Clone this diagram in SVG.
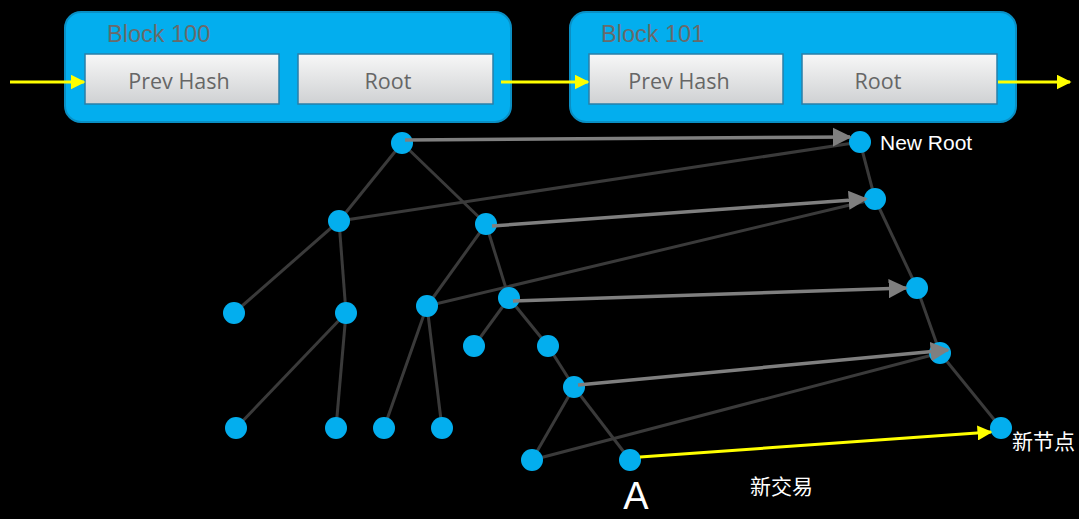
<svg xmlns="http://www.w3.org/2000/svg" width="1079" height="519" viewBox="0 0 1079 519">
<defs>
<linearGradient id="btn" x1="0" y1="0" x2="0" y2="1">
<stop offset="0" stop-color="#f7f7f7"/>
<stop offset="1" stop-color="#cfd1d3"/>
</linearGradient>
<marker id="ay" viewBox="0 0 10 10" refX="9" refY="5" markerWidth="5" markerHeight="5" orient="auto" markerUnits="strokeWidth">
<path d="M0,0 L10,5 L0,10 z" fill="#ffff00"/>
</marker>
<marker id="ag" viewBox="0 0 10 10" refX="9" refY="5" markerWidth="5.5" markerHeight="5.5" orient="auto" markerUnits="strokeWidth">
<path d="M0,0 L10,5 L0,10 z" fill="#7f7f7f"/>
</marker>
<style>
.blk{fill:#03aeee;stroke:#0a8fc4;stroke-width:2}
.btn{fill:url(#btn);stroke:#2a7fa8;stroke-width:1.5}
.bt{font-family:"Liberation Sans",Arial,sans-serif;font-size:23.5px;fill:#6a6a6a}
.st{font-family:"Open Sans","Noto Sans",sans-serif;font-size:21.5px;fill:#666;text-anchor:middle}
.e{stroke:#3a3a3a;stroke-width:3;fill:none}
.g{stroke:#7f7f7f;stroke-width:3.5;fill:none;marker-end:url(#ag)}
.y{stroke:#ffff00;stroke-width:3;fill:none;marker-end:url(#ay)}
.n{fill:#03aeee}
.lbl{font-family:"Liberation Sans",Arial,"Noto Sans CJK SC",sans-serif;font-size:21px;fill:#ffffff}
</style>
</defs>
<rect width="1079" height="519" fill="#000"/>
<g id="block100">
<rect class="blk" x="65" y="12" width="446" height="110" rx="16"/>
<text class="bt" x="107" y="42">Block 100</text>
<rect class="btn" x="85" y="54" width="194" height="50"/>
<text class="st" x="179" y="89">Prev Hash</text>
<rect class="btn" x="298" y="54" width="195" height="50"/>
<text class="st" x="388" y="89">Root</text>
</g>
<g id="block101">
<rect class="blk" x="570" y="12" width="446" height="110" rx="16"/>
<text class="bt" x="601" y="42">Block 101</text>
<rect class="btn" x="589" y="54" width="194" height="50"/>
<text class="st" x="679" y="89">Prev Hash</text>
<rect class="btn" x="802" y="54" width="195" height="50"/>
<text class="st" x="878" y="89">Root</text>
</g>
<g id="connectors">
<line class="e" x1="402" y1="143" x2="339" y2="221"/>
<line class="e" x1="402" y1="143" x2="486" y2="224"/>
<line class="e" x1="339" y1="221" x2="234" y2="313"/>
<line class="e" x1="339" y1="221" x2="346" y2="313"/>
<line class="e" x1="486" y1="224" x2="427" y2="306"/>
<line class="e" x1="486" y1="224" x2="509" y2="298"/>
<line class="e" x1="346" y1="313" x2="236" y2="428"/>
<line class="e" x1="346" y1="313" x2="336" y2="428"/>
<line class="e" x1="427" y1="306" x2="384" y2="428"/>
<line class="e" x1="427" y1="306" x2="442" y2="428"/>
<line class="e" x1="509" y1="298" x2="474" y2="346"/>
<line class="e" x1="509" y1="298" x2="548" y2="346"/>
<line class="e" x1="548" y1="346" x2="574" y2="387"/>
<line class="e" x1="574" y1="387" x2="532" y2="460"/>
<line class="e" x1="574" y1="387" x2="630" y2="460"/>
<line class="e" x1="860" y1="142" x2="875" y2="199"/>
<line class="e" x1="875" y1="199" x2="917" y2="288"/>
<line class="e" x1="917" y1="288" x2="940" y2="353"/>
<line class="e" x1="940" y1="353" x2="1001" y2="428"/>
<line class="e" x1="339" y1="221" x2="860" y2="142"/>
<line class="e" x1="427" y1="306" x2="875" y2="199"/>
<line class="e" x1="532" y1="460" x2="940" y2="353"/>
</g>
<g id="nodes">
<circle id="n1" class="n" cx="402" cy="143" r="11"/>
<circle id="n2" class="n" cx="339" cy="221" r="11"/>
<circle id="n3" class="n" cx="486" cy="224" r="11"/>
<circle id="n4" class="n" cx="234" cy="313" r="11"/>
<circle id="n5" class="n" cx="346" cy="313" r="11"/>
<circle id="n6" class="n" cx="427" cy="306" r="11"/>
<circle id="n7" class="n" cx="509" cy="298" r="11"/>
<circle id="n8" class="n" cx="236" cy="428" r="11"/>
<circle id="n9" class="n" cx="336" cy="428" r="11"/>
<circle id="n10" class="n" cx="384" cy="428" r="11"/>
<circle id="n11" class="n" cx="442" cy="428" r="11"/>
<circle id="n12" class="n" cx="474" cy="346" r="11"/>
<circle id="n13" class="n" cx="548" cy="346" r="11"/>
<circle id="n14" class="n" cx="574" cy="387" r="11"/>
<circle id="n15" class="n" cx="532" cy="460" r="11"/>
<circle id="n16" class="n" cx="630" cy="460" r="11"/>
<circle id="r1" class="n" cx="860" cy="142" r="11"/>
<circle id="r2" class="n" cx="875" cy="199" r="11"/>
<circle id="r3" class="n" cx="917" cy="288" r="11"/>
<circle id="r4" class="n" cx="940" cy="353" r="11"/>
<circle id="r5" class="n" cx="1001" cy="428" r="11"/>
</g>
<g id="arrows">
<line class="y" x1="10" y1="82" x2="84" y2="82"/>
<line class="y" x1="501" y1="82" x2="588" y2="82"/>
<line class="y" x1="998" y1="82" x2="1070" y2="82"/>
<line class="g" x1="405" y1="140" x2="850" y2="137"/>
<line class="g" x1="492" y1="226" x2="866" y2="199"/>
<line class="g" x1="513" y1="301" x2="906" y2="288"/>
<line class="g" x1="578" y1="385" x2="948" y2="350"/>
<line class="y" x1="640" y1="457" x2="991" y2="432"/>
</g>
<g id="labels">
<text class="lbl" x="880" y="150">New Root</text>
<text class="lbl" x="1012" y="449" font-size="21.5">新节点</text>
<text class="lbl" x="750" y="494" font-size="20.5">新交易</text>
<text x="636" y="509" font-family="Liberation Sans,Arial,sans-serif" font-size="38" fill="#fff" text-anchor="middle">A</text>
</g>
</svg>
